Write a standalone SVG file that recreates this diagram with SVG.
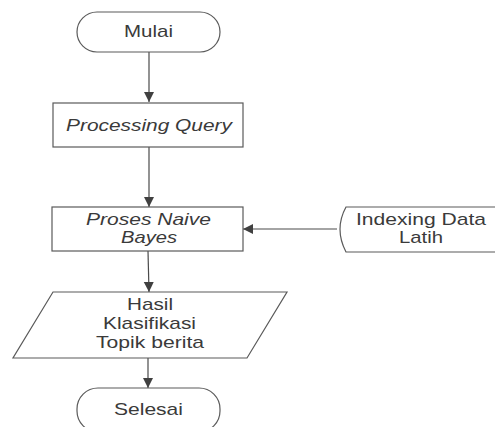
<svg xmlns="http://www.w3.org/2000/svg" width="495" height="427" viewBox="0 0 495 427">
<defs>
<marker id="arr" markerUnits="userSpaceOnUse" markerWidth="11" markerHeight="11" refX="10" refY="5" orient="auto">
<path d="M0,0 L10,5 L0,10 z" fill="#404040"/>
</marker>
<style>
.n{fill:#ffffff;stroke:#5a5a5a;stroke-width:1.2}
.c{fill:none;stroke:#4a4a4a;stroke-width:1.2}
.t{font-family:"Liberation Sans",Arial,sans-serif;font-size:17px;fill:#3a3a3a;text-anchor:middle}
.i{font-style:italic}
</style>
</defs>
<rect width="495" height="427" fill="#ffffff"/>
<g id="connectors">
<line class="c" x1="149" y1="52" x2="149" y2="102" marker-end="url(#arr)"/>
<line class="c" x1="149" y1="147" x2="149" y2="207" marker-end="url(#arr)"/>
<line class="c" x1="148" y1="251" x2="149" y2="292" marker-end="url(#arr)"/>
<line class="c" x1="337" y1="229" x2="243" y2="229" marker-end="url(#arr)"/>
<line class="c" x1="148" y1="358" x2="148" y2="388" marker-end="url(#arr)"/>
</g>
<g id="mulai">
<rect class="n" x="77" y="12" width="143" height="40" rx="20" ry="20"/>
<text class="t" x="148.5" y="37" textLength="49" lengthAdjust="spacingAndGlyphs">Mulai</text>
</g>
<g id="processing-query">
<rect class="n" x="53" y="103" width="190" height="44"/>
<text class="t i" x="149" y="131" textLength="166" lengthAdjust="spacingAndGlyphs">Processing Query</text>
</g>
<g id="proses-naive-bayes">
<rect class="n" x="52" y="207" width="191" height="44"/>
<text class="t i" x="148.5" y="225" textLength="125" lengthAdjust="spacingAndGlyphs">Proses Naive</text>
<text class="t i" x="149" y="243" textLength="56" lengthAdjust="spacingAndGlyphs">Bayes</text>
</g>
<g id="indexing-data-latih">
<path class="n" d="M496,207 L346,207 Q334,229 346,252 L496,252"/>
<text class="t" x="421" y="225" textLength="130" lengthAdjust="spacingAndGlyphs">Indexing Data</text>
<text class="t" x="421" y="243" textLength="44" lengthAdjust="spacingAndGlyphs">Latih</text>
</g>
<g id="hasil">
<polygon class="n" points="53,292 287,292 247,358 13,358"/>
<text class="t" x="150" y="310" textLength="46" lengthAdjust="spacingAndGlyphs">Hasil</text>
<text class="t" x="149.5" y="329" textLength="93" lengthAdjust="spacingAndGlyphs">Klasifikasi</text>
<text class="t" x="150" y="348" textLength="108" lengthAdjust="spacingAndGlyphs">Topik berita</text>
</g>
<g id="selesai">
<rect class="n" x="77" y="388" width="143" height="44" rx="21" ry="21"/>
<text class="t" x="148.5" y="415" textLength="69" lengthAdjust="spacingAndGlyphs">Selesai</text>
</g>
</svg>
